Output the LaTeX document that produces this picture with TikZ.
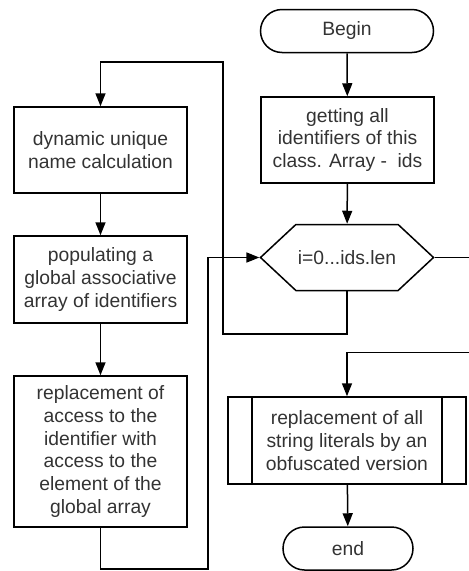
\documentclass[tikz,border=0pt]{standalone}
\usepackage{fontspec}
\setmainfont{Liberation Sans}
\usetikzlibrary{arrows.meta, shapes.misc, shapes.symbols}

\tikzset{
    flow/.style={line width=1.5pt, draw=black},
    txt/.style={text=black!80, align=center, font=\fontsize{19.3}{22.7}\selectfont},
    terminal/.style={flow, txt, rounded rectangle, minimum height=43pt, inner sep=0pt},
    procbox/.style={flow, txt, rectangle, minimum width=173pt, inner sep=0pt},
    loopbox/.style={flow, txt, signal, signal to=west and east, signal pointer angle=86,
        minimum width=173pt, minimum height=66pt, inner sep=0pt},
    subproc/.style={flow, txt, rectangle, minimum width=238pt, minimum height=87pt, inner sep=0pt,
        path picture={
            \draw[line width=1.5pt] ([xshift=24pt]path picture bounding box.north west)
                -- ([xshift=24pt]path picture bounding box.south west);
            \draw[line width=1.5pt] ([xshift=-24pt]path picture bounding box.north east)
                -- ([xshift=-24pt]path picture bounding box.south east);
        }},
    link/.style={flow, -{Triangle[length=13pt, width=10pt]}}
}

\begin{document}
\begin{tikzpicture}[x=1pt, y=1pt]

\useasboundingbox (0,0) rectangle (469,-571);

% === Rama derecha ===
\node[terminal, minimum width=173pt] (begin) at (347,-31) {Begin};
\node[procbox, minimum height=86pt] (getids) at (347.5,-140)
    {getting all\\identifiers of this\\class. Array -\ \ ids};
\node[loopbox] (loop) at (347,-257.5) {i=0...ids.len};
\node[subproc] (strings) at (347,-440.5)
    {replacement of all\\string literals by an\\obfuscated version};
\node[terminal, minimum width=130pt] (end) at (348,-548.5) {end};

% === Cuerpo del bucle ===
\node[procbox, minimum height=86pt] (calcname) at (100.5,-150)
    {dynamic unique\\name calculation};
\node[procbox, minimum height=87pt] (populate) at (100.5,-279.5)
    {populating a\\global associative\\array of identifiers};
\node[procbox, minimum height=151pt] (replace) at (100.5,-451.5)
    {replacement of\\access to the\\identifier with\\access to the\\element of the\\global array};

% Puntos de paso
\coordinate (into1) at (223,-334);
\coordinate (into2) at (223,-62);
\coordinate (back1) at (208,-569);
\coordinate (exit1) at (469,-257.5);
\coordinate (exit2) at (469,-352.5);

% === Conexiones ===
\draw[link] (begin) -- (getids);
\draw[link] (getids) -- (loop);
\draw[link] (loop.south) |- (into1) -- (into2) -| (calcname.north);
\draw[link] (calcname) -- (populate);
\draw[link] (populate) -- (replace);
\draw[link] (replace.south) |- (back1) |- (loop.west);
\draw[flow] (loop.east) -- (exit1);
\draw[link] (exit2) -| (strings.north);
\draw[link] (strings) -- (end);

\end{tikzpicture}
\end{document}
